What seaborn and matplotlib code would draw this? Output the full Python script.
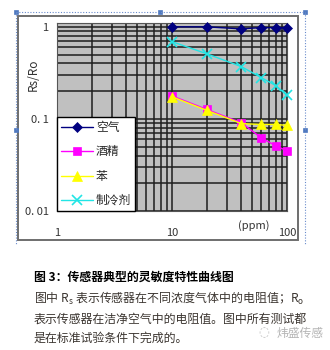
import matplotlib
matplotlib.use("Agg")
import matplotlib.pyplot as plt
import seaborn as sns
import pandas as pd
from matplotlib.patches import Rectangle
from matplotlib.lines import Line2D

sns.set_theme(style="white")
plt.rcParams['font.family'] = ['Noto Sans CJK SC', 'DejaVu Sans']

# ---- data ----
conc = [10, 20, 40, 60, 80, 100]
air = [1.0, 1.0, 0.95, 0.98, 0.98, 0.98]
alcohol = [0.178, 0.127, 0.091, 0.062, 0.051, 0.045]
benzene = [0.174, 0.124, 0.089, 0.087, 0.087, 0.085]
refrigerant = [0.69, 0.51, 0.37, 0.28, 0.23, 0.18]
series_names = ["空气", "酒精", "苯", "制冷剂"]
x_ticks = [1, 10, 100]
x_ticklabels = ["1", "10", "100"]
y_ticks = [0.01, 0.1, 1]
y_ticklabels = ["0. 01", "0. 1", "1"]
caption_title = "图 3：传感器典型的灵敏度特性曲线图"
caption_lines = ["图中 $\\mathregular{R_s}$ 表示传感器在不同浓度气体中的电阻值；$\\mathregular{R_o}$",
                 "表示传感器在洁净空气中的电阻值。图中所有测试都",
                 "是在标准试验条件下完成的。"]
watermark = "炜盛传感"

W, H = 330, 350
fig = plt.figure(figsize=(W / 100, H / 100), dpi=100)
fig.patch.set_facecolor("white")

def fx(x):
    return x / W

def fy(y):
    return 1 - y / H

# axes: x 57..287 px, y 23..211 px
ax = fig.add_axes([fx(57), fy(211), (287 - 57) / W, (211 - 23) / H])
ax.set_facecolor("#c0c0c0")

styles = [
    (air, "#000080", "D", 5, 1.0),
    (alcohol, "#ff00ff", "s", 6, 1.0),
    (benzene, "#ffff00", "^", 7, 1.0),
    (refrigerant, "#22e5e5", "x", 7, 1.0),
]
handles = []
for name, (vals, col, mk, ms, lw) in zip(series_names, styles):
    df = pd.DataFrame({"ppm": conc, "ratio": vals})
    mew = 1.2 if mk == "x" else 0.5
    sns.lineplot(data=df, x="ppm", y="ratio", ax=ax, color=col, marker=mk,
                 markersize=ms, markeredgecolor=col, markeredgewidth=mew,
                 linewidth=lw, legend=False, zorder=5, clip_on=False)
    handles.append(Line2D([0], [0], color=col, marker=mk, markersize=ms,
                          markeredgecolor=col, linewidth=lw, markeredgewidth=mew))

ax.set_xscale("log")
ax.set_yscale("log")
ax.set_xlim(1, 100)
ax.set_ylim(0.01, 1.1)
ax.grid(which="both", color="#1e1e1e", linewidth=1.1)
ax.set_axisbelow(True)
ax.set_xticks(x_ticks)
ax.set_xticklabels(x_ticklabels)
ax.set_yticks(y_ticks)
ax.set_yticklabels(y_ticklabels)
ax.tick_params(which="both", length=0, labelsize=8, colors="#333333")
ax.tick_params(axis="x", pad=12)
ax.tick_params(axis="y", pad=6)
ax.set_xlabel("")
ax.set_ylabel("")
for s in ax.spines.values():
    s.set_color("#555555")
    s.set_linewidth(0.8)

ax.legend(handles, series_names, loc="lower left", bbox_to_anchor=(0, 0),
          borderaxespad=0, frameon=True, fancybox=False, edgecolor="black",
          facecolor="white", framealpha=1, fontsize=8.5, handlelength=2.7,
          labelspacing=0.95, handletextpad=0.25, borderpad=0.35)

fig.text(fx(33), fy(75), "Rs/Ro", rotation=90, ha="center", va="center",
         fontsize=8.5, color="#333333")
fig.text(fx(254), fy(226), "(ppm)", ha="center", va="center", fontsize=8, color="#333333")

# outer chart frame
fig.add_artist(Rectangle((fx(18), fy(240)), (298 - 18) / W, (240 - 16) / H,
                         transform=fig.transFigure, fill=False,
                         edgecolor="#6e6e6e", linewidth=1.4))
# selection dotted border
dot = dict(color="#6a8ccc", linewidth=0.8, linestyle=(0, (1, 1.5)))
fig.add_artist(Line2D([fx(16), fx(305)], [fy(12), fy(12)], transform=fig.transFigure, **dot))
fig.add_artist(Line2D([fx(16), fx(16)], [fy(12), fy(245)], transform=fig.transFigure, **dot))
fig.add_artist(Line2D([fx(305), fx(305)], [fy(12), fy(245)], transform=fig.transFigure, **dot))
for (hx, hy) in [(16, 12), (160, 12), (305, 12), (16, 130), (305, 130)]:
    fig.add_artist(Rectangle((fx(hx - 2), fy(hy + 2)), 4 / W, 4 / H,
                             transform=fig.transFigure, facecolor="#4f79c0",
                             edgecolor="#4f79c0", linewidth=0.5))

# caption (font sizes fitted to the reference's text widths)
renderer = fig.canvas.get_renderer()

def fit(t, target_px):
    w = t.get_window_extent(renderer=renderer).width
    t.set_fontsize(t.get_fontsize() * target_px / w)

t_title = fig.text(fx(34), fy(277), caption_title, ha="left", va="center",
                   fontsize=8.5, fontweight="bold", color="black")
fit(t_title, 199)
body = []
for line, yy in zip(caption_lines, [298, 319, 338]):
    body.append(fig.text(fx(34), fy(yy), line, ha="left", va="center",
                         fontsize=8.6, color="#3b3530"))
fit(body[1], 273)
for t in (body[0], body[2]):
    t.set_fontsize(body[1].get_fontsize())
# watermark: small chat-bubble icon + text
fig.text(fx(264), fy(333), "◌", ha="center", va="center", fontsize=9,
         color="#c0c0c0", family=["DejaVu Sans"])
fig.text(fx(300), fy(333), watermark, ha="center", va="center",
         fontsize=8.5, color="#b5b5b5")

fig.savefig("out.png", dpi=100)
